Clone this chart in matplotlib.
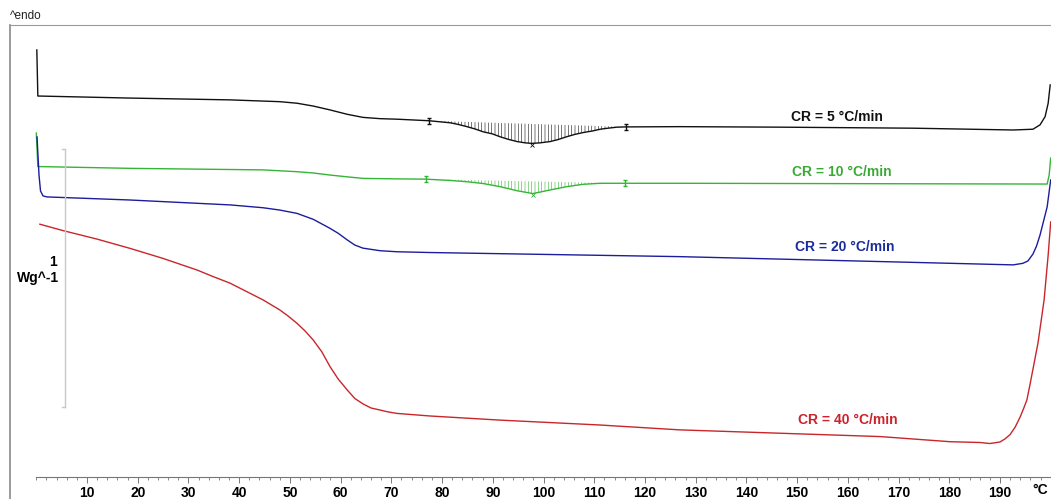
import numpy as np
import matplotlib
matplotlib.use("Agg")
import matplotlib.pyplot as plt
from matplotlib.lines import Line2D

plt.rcParams['font.family'] = ['Liberation Sans', 'DejaVu Sans']
plt.rcParams['hatch.linewidth'] = 0.4

# DSC heating traces after cooling at different rates (T in degC, heat flow in W/g, endo up)
t_cr5 = [0.1, 0.3, 18.5, 38.2, 48.0, 51.4, 54.6, 57.9, 61.3, 64.4, 67.8, 71.1, 77.4, 81.6, 83.1,
         84.9, 86.5, 88.1, 89.9, 91.4, 93.0, 94.8, 96.4, 97.7, 99.3, 101.3, 102.9, 104.6, 106.2,
         107.8, 109.6, 111.2, 112.7, 114.5, 116.3, 126.9, 146.6, 172.9, 192.6, 196.5, 197.9,
         198.9, 199.5, 199.9]
hf_cr5 = [1.659, 1.480, 1.472, 1.465, 1.458, 1.452, 1.441, 1.426, 1.409, 1.397, 1.392, 1.390,
          1.384, 1.376, 1.370, 1.361, 1.352, 1.341, 1.333, 1.322, 1.312, 1.303, 1.298, 1.296,
          1.298, 1.303, 1.311, 1.322, 1.331, 1.338, 1.344, 1.351, 1.355, 1.359, 1.360, 1.361,
          1.359, 1.355, 1.348, 1.351, 1.368, 1.400, 1.452, 1.523]

t_cr10 = [0.0, 0.3, 18.5, 44.7, 51.4, 54.6, 57.9, 61.3, 64.4, 67.8, 71.7, 76.8, 81.6, 84.9, 88.1,
          91.4, 94.8, 97.9, 101.3, 104.6, 107.8, 111.2, 116.1, 126.9, 199.3, 199.7, 200.0]
hf_cr10 = [1.336, 1.206, 1.199, 1.193, 1.186, 1.181, 1.173, 1.166, 1.160, 1.159, 1.158, 1.157,
           1.152, 1.147, 1.140, 1.128, 1.112, 1.101, 1.115, 1.128, 1.137, 1.141, 1.141, 1.141,
           1.138, 1.173, 1.239]

t_cr20 = [0.14, 0.53, 0.83, 1.32, 2.11, 18.5, 38.2, 44.7, 48.0, 51.4, 54.6, 57.9, 59.5, 61.3,
          62.8, 64.4, 67.8, 71.1, 77.6, 126.9, 170.3, 192.6, 194.5, 195.5, 196.5, 197.2, 197.9,
          199.3, 200.0]
hf_cr20 = [1.321, 1.173, 1.111, 1.092, 1.088, 1.076, 1.057, 1.046, 1.037, 1.024, 1.001, 0.966,
           0.947, 0.921, 0.901, 0.889, 0.879, 0.875, 0.872, 0.856, 0.835, 0.824, 0.830, 0.839,
           0.866, 0.897, 0.940, 1.049, 1.154]

t_cr40 = [0.7, 5.3, 12.0, 18.5, 25.0, 31.7, 34.8, 38.2, 41.4, 44.7, 48.0, 49.6, 51.4, 53.0, 54.6,
          56.3, 57.9, 59.5, 61.3, 62.8, 64.4, 66.0, 67.8, 69.3, 71.1, 77.6, 91.4, 111.1, 126.9,
          166.4, 180.2, 186.1, 188.0, 190.0, 191.0, 192.0, 193.0, 194.0, 194.7, 195.3, 195.9,
          197.5, 198.7, 199.5, 200.0]
hf_cr40 = [0.982, 0.957, 0.924, 0.888, 0.849, 0.804, 0.779, 0.753, 0.721, 0.688, 0.649, 0.626,
           0.597, 0.567, 0.532, 0.486, 0.429, 0.381, 0.338, 0.305, 0.284, 0.268, 0.260, 0.253,
           0.247, 0.237, 0.221, 0.202, 0.183, 0.157, 0.137, 0.134, 0.130, 0.136, 0.148, 0.165,
           0.194, 0.234, 0.268, 0.299, 0.357, 0.521, 0.688, 0.862, 0.991]

# integration limits of the crystallisation peaks
peak_cr5 = (77.4, 116.3)
peak_cr10 = (76.8, 116.1)

labels = ['CR = 5 °C/min', 'CR = 10 °C/min', 'CR = 20 °C/min', 'CR = 40 °C/min']
line_colors = ['#111111', '#35b535', '#1c1c9c', '#c8262a']
text_colors = ['#111111', '#3aaa35', '#1a2b9b', '#cc2229']
label_pos = [(157.9, 1.400), (158.8, 1.186), (159.4, 0.895), (160.0, 0.221)]

xticks = list(range(10, 200, 10))

fig = plt.figure(figsize=(10.51, 4.99), dpi=100)
ax = fig.add_axes([0, 0, 1, 1])
ax.set_xlim(-7.16, 200.06)
ax.set_ylim(-0.0855, 1.853)

series = [(t_cr5, hf_cr5), (t_cr10, hf_cr10), (t_cr20, hf_cr20), (t_cr40, hf_cr40)]
for (t, hf), c in zip(series, line_colors):
    ax.plot(t, hf, color=c, lw=1.0, solid_joinstyle='round')

# hatched peak areas with straight baseline between the limits
for (t, hf), lim, c in [((t_cr5, hf_cr5), peak_cr5, line_colors[0]),
                        ((t_cr10, hf_cr10), peak_cr10, line_colors[1])]:
    t = np.array(t)
    hf = np.array(hf)
    m = (t >= lim[0] - 0.01) & (t <= lim[1] + 0.01)
    y0 = np.interp(lim[0], t, hf)
    y1 = np.interp(lim[1], t, hf)
    base = np.interp(t[m], [lim[0], lim[1]], [y0, y1])
    ax.fill_between(t[m], base, hf[m], facecolor='none', edgecolor=c, hatch='|' * 5, linewidth=0)
    ax.errorbar([lim[0], lim[1]], [y0, y1], yerr=0.011, fmt='none', ecolor=c, elinewidth=1.0, capsize=1.5)
    i = np.argmin(hf[m])
    ax.plot(t[m][i], hf[m][i] - 0.006, marker='x', ms=3, mew=0.6, color=c)

for lab, (x, y), c in zip(labels, label_pos, text_colors):
    ax.text(x, y, lab, color=c, fontsize=10, fontweight='bold', ha='center', va='center')

# 1 W/g scale bar
ax.plot([5.66, 5.66], [0.273, 1.273], color='#c8c8c8', lw=1.0)
ax.plot([5.1, 5.66], [1.273, 1.273], color='#c8c8c8', lw=1.0)
ax.plot([5.1, 5.66], [0.273, 0.273], color='#c8c8c8', lw=1.0)
ax.text(4.0, 0.835, '1', fontsize=10, fontweight='bold', ha='right', va='center')
ax.text(4.4, 0.773, 'Wg^-1', fontsize=10, fontweight='bold', ha='right', va='center')

# temperature axis
for s in ['left', 'right', 'top']:
    ax.spines[s].set_visible(False)
ax.spines['bottom'].set_position(('data', 0))
ax.spines['bottom'].set_bounds(0, 200)
ax.spines['bottom'].set_color('#777777')
ax.spines['bottom'].set_linewidth(0.8)
ax.set_yticks([])
ax.set_xticks(xticks)
ax.set_xticklabels([str(v) for v in xticks], fontsize=10, fontweight='bold')
ax.set_xticks(np.arange(0, 201, 2), minor=True)
ax.tick_params(axis='x', which='major', direction='out', length=4, width=0.7, color='#777777', pad=2.5)
ax.tick_params(axis='x', which='minor', direction='out', length=2.5, width=0.6, color='#777777')
ax.text(197.9, -0.05, '°C', fontsize=10, fontweight='bold', ha='center', va='center')

# instrument frame
fig.add_artist(Line2D([10 / 1051, 10 / 1051], [0, 1 - 25 / 499], color='#8a8a8a', lw=1.2))
fig.add_artist(Line2D([10 / 1051, 1], [1 - 25 / 499, 1 - 25 / 499], color='#9a9a9a', lw=0.8))
fig.text(10 / 1051, 1 - 16 / 499, '^endo', fontsize=8.5, ha='left', va='center', color='#222222')

fig.savefig('out.png', dpi=100)
